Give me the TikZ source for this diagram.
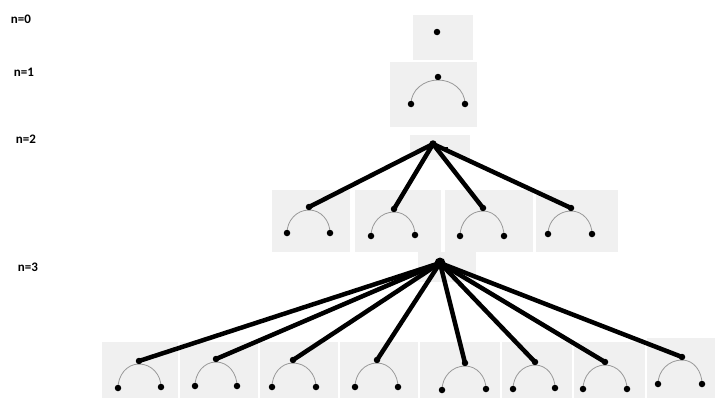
\documentclass[tikz,border=0pt]{standalone}
\usepackage{fontspec}
\setmainfont{Carlito}
\begin{document}
\begin{tikzpicture}[x=1pt,y=-1pt,
  bg/.style={fill=black!6,draw=none},
  dot/.style={circle,fill=black,inner sep=0pt,minimum size=6.5pt},
  bigdot/.style={circle,fill=black,inner sep=0pt,minimum size=11pt},
  middot/.style={circle,fill=black,inner sep=0pt,minimum size=7.5pt},
  arcl/.style={draw=black!40,line width=0.8pt},
  link/.style={line width=4.5pt,black},
  lab/.style={font=\bfseries\fontsize{13}{15}\selectfont,inner sep=0pt}]
\useasboundingbox (0,0) rectangle (719,399);
% labels
\node[lab] (l0) at (21,19) {n=0};
\node[lab] (l1) at (24,72) {n=1};
\node[lab] (l2) at (26,139) {n=2};
\node[lab] (l3) at (28,267) {n=3};
% backgrounds
\fill[bg] (413,15) rectangle (473,60);
\fill[bg] (390,62) rectangle (477,127);
\fill[bg] (410,135) rectangle (470,160);
\foreach \a/\b in {272/350,355/441,445/533,536/618}
  \fill[bg] (\a,190) rectangle (\b,252);
\fill[bg] (418,252) rectangle (476,282);
\foreach \a/\b/\c in {102/178/342,180/258/342,260/338/342,340/418/342,420/500/342,502/572/342,574/645/342,647/715/338}
  \fill[bg] (\a,\c) rectangle (\b,398);
% n=0
\node[dot] (r0) at (437,32) {};
% units
\foreach \n/\tx/\ty/\lx/\ly/\rx/\ry in {
  u1/438/77/411/104/465/104,
  m1/309/207/287/233/330/233,
  m2/394/209/371/236/415/235,
  m3/483/208/460/236/504/236,
  m4/571/208/548/234/592/234,
  b1/139/361/118/388/161/387,
  b2/216/359/195/386/237/386,
  b3/293/360/272/387/316/387,
  b4/377/360/355/387/398/387,
  b5/465/363/442/390/486/389,
  b6/535/362/513/389/555/388,
  b7/605/362/583/389/627/389,
  b8/682/357/658/384/702/384} {
  \draw[arcl] (\lx,\ly) to[out=90,in=180] (\tx,\ty+3) to[out=0,in=90] (\rx,\ry);
  \node[dot] (\n-t) at (\tx,\ty) {};
  \node[dot] (\n-l) at (\lx,\ly) {};
  \node[dot] (\n-r) at (\rx,\ry) {};
}
% n=2
\node[middot] (r2) at (433,144) {};
\coordinate (d2) at (438,148);
\draw[line width=1.2pt] (d2) -- ++(10,0);
\foreach \c in {m1,m2,m3,m4}
  \draw[link] (r2.center) -- (\c-t.center);
% n=3
\node[bigdot] (r3) at (440,263) {};
\foreach \c in {b1,b2,b3,b4,b5,b6,b7,b8}
  \draw[link] (r3.center) -- (\c-t.center);
\end{tikzpicture}
\end{document}
